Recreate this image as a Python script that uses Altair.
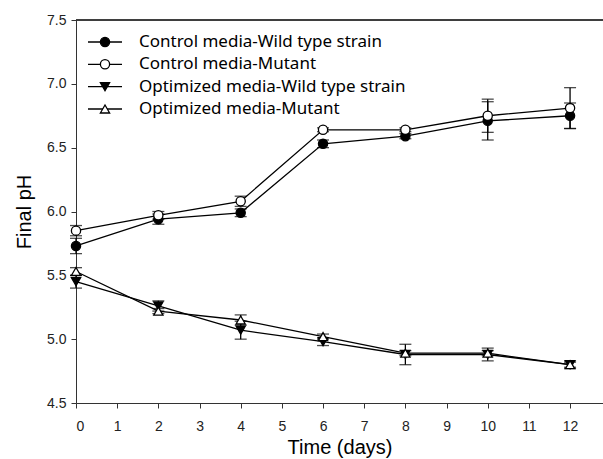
import altair as alt
import pandas as pd

days = [0, 2, 4, 6, 8, 10, 12]
series_names = [
    "Control media-Wild type strain",
    "Control media-Mutant",
    "Optimized media-Wild type strain",
    "Optimized media-Mutant",
]
ctrl_wt = [5.73, 5.94, 5.99, 6.53, 6.59, 6.71, 6.75]
ctrl_wt_err = [0.06, 0.04, 0.03, 0.03, 0.02, 0.15, 0.10]
ctrl_mut = [5.85, 5.97, 6.08, 6.64, 6.64, 6.75, 6.81]
ctrl_mut_err = [0.04, 0.03, 0.04, 0.015, 0.015, 0.13, 0.16]
opt_wt = [5.45, 5.26, 5.07, 4.98, 4.88, 4.88, 4.80]
opt_wt_err = [0.05, 0.04, 0.07, 0.03, 0.08, 0.05, 0.03]
opt_mut = [5.53, 5.22, 5.15, 5.02, 4.89, 4.89, 4.80]
opt_mut_err = [0.03, 0.02, 0.04, 0.02, 0.02, 0.02, 0.02]

x_ticks = list(range(0, 13))
y_ticks = [4.5, 5.0, 5.5, 6.0, 6.5, 7.0, 7.5]

rows = []
for name, vals, errs in zip(series_names,
                            [ctrl_wt, ctrl_mut, opt_wt, opt_mut],
                            [ctrl_wt_err, ctrl_mut_err, opt_wt_err, opt_mut_err]):
    for d, v, e in zip(days, vals, errs):
        rows.append({"series": name, "day": d, "ph": v, "lo": v - e, "hi": v + e})
df = pd.DataFrame(rows)
leg = pd.DataFrame({"series": series_names})

W, H = 527, 383
FONT = "Liberation Sans"

shape_scale = alt.Scale(domain=series_names,
                        range=["circle", "circle", "triangle-down", "triangle-up"])
fill_scale = alt.Scale(domain=series_names, range=["black", "white", "black", "white"])

xenc = alt.X("day:Q", scale=alt.Scale(domain=[0, 12.8], nice=False, zero=False),
             axis=alt.Axis(values=x_ticks, title="Time (days)", grid=False, format="d",
                           tickSize=5, labelPadding=11, titlePadding=4,
                           domainColor="#333", tickColor="#333"))
yenc = alt.Y("ph:Q", scale=alt.Scale(domain=[4.5, 7.5], nice=False, zero=False),
             axis=alt.Axis(values=y_ticks, title="Final pH", grid=False, format=".1f",
                           tickSize=5, labelPadding=5, titlePadding=12,
                           domainColor="#333", tickColor="#333"))

base = alt.Chart(df)
lines = base.mark_line(color="black", strokeWidth=1.3).encode(
    x=xenc, y=yenc, detail="series:N")
err_rule = base.mark_rule(color="black", strokeWidth=1.3).encode(
    x="day:Q", y="lo:Q", y2="hi:Q")
cap_lo = base.mark_tick(color="black", orient="horizontal", size=12, thickness=1.3).encode(
    x="day:Q", y="lo:Q")
cap_hi = base.mark_tick(color="black", orient="horizontal", size=12, thickness=1.3).encode(
    x="day:Q", y="hi:Q")
pts = base.mark_point(stroke="black", strokeWidth=1.3, size=85, opacity=1).encode(
    x="day:Q", y="ph:Q",
    shape=alt.Shape("series:N", scale=shape_scale, legend=None),
    fill=alt.Fill("series:N", scale=fill_scale, legend=None))
frame_top = alt.Chart(leg).mark_rule(color="#333", strokeWidth=1).encode(
    x=alt.value(0), x2=alt.value(W), y=alt.value(0))

main = alt.layer(lines, err_rule, cap_lo, cap_hi, pts, frame_top)

ly = alt.Y("series:N", scale=alt.Scale(type="point", domain=series_names, range=[22, 89], padding=0),
           axis=None)
lb = alt.Chart(leg)
leg_line = lb.mark_rule(color="black", strokeWidth=1.3).encode(
    x=alt.value(12), x2=alt.value(46), y=ly)
leg_pt = lb.mark_point(stroke="black", strokeWidth=1.3, size=85, opacity=1).encode(
    x=alt.value(29), y=ly,
    shape=alt.Shape("series:N", scale=shape_scale, legend=None),
    fill=alt.Fill("series:N", scale=fill_scale, legend=None))
leg_txt = lb.mark_text(align="left", baseline="middle", fontSize=17, font="Noto Sans",
                       color="black").encode(x=alt.value(63), y=ly, text="series:N")
legend = alt.layer(leg_line, leg_pt, leg_txt)

chart = alt.layer(main, legend).resolve_scale(y="independent").properties(
    width=W, height=H,
    autosize=alt.AutoSizeParams(type="none"),
    padding={"left": 76, "top": 20, "right": 0, "bottom": 56},
    background="white",
).configure_view(stroke=None).configure_axis(
    labelFont=FONT, labelFontSize=14, labelColor="#222",
    titleFont=FONT, titleFontSize=20, titleFontWeight="normal", titleColor="black",
)

chart.save("out.html", embed_options={"renderer": "svg", "actions": False})
